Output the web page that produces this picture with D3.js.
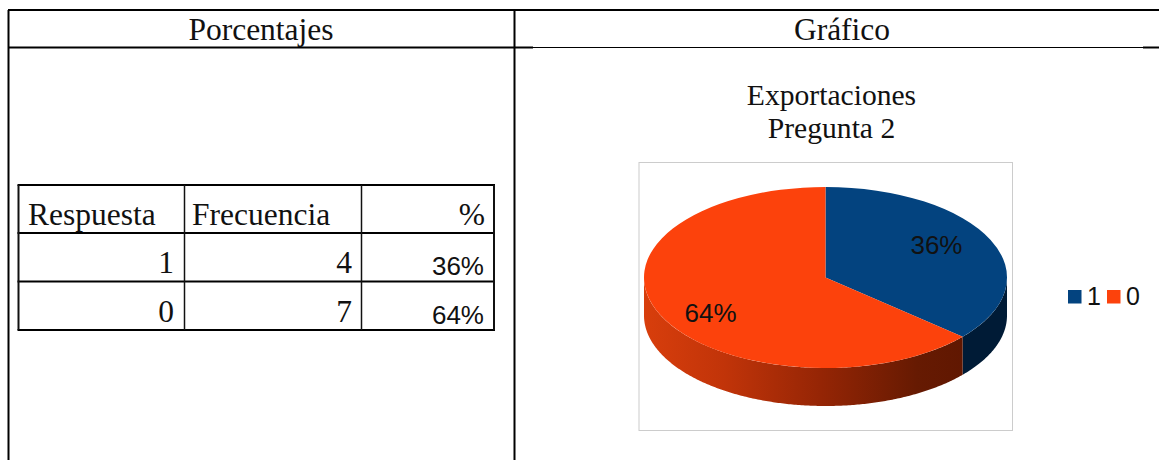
<!DOCTYPE html>
<html lang="es">
<head>
<meta charset="utf-8">
<title>Exportaciones Pregunta 2</title>
<script src="https://cdn.jsdelivr.net/npm/d3@7"></script>
<style>
  html, body { margin: 0; padding: 0; background: #fff; }
  svg { display: block; }
  .serif { font-family: "Liberation Serif", serif; fill: #111; }
  .sans { font-family: "Liberation Sans", sans-serif; fill: #111; }
</style>
</head>
<body>
<svg id="page" width="1159" height="460"></svg>
<script>
// Survey answers
const answers = ["1", "0"];
const frequencies = [4, 7];
const tableHeaders = ["Respuesta", "Frecuencia", "%"];
const sectionTitles = ["Porcentajes", "Gráfico"];
const chartTitle = ["Exportaciones", "Pregunta 2"];

const topColors = ["#03437f", "#fc420c"];
const wallColors = ["#001b36", "url(#wallShade)"];

const svg = d3.select("#page");
const total = d3.sum(frequencies);
const percent = d3.format(".0%");

function rule(x1, y1, x2, y2, width, color = "#000") {
  svg.append("line").attr("x1", x1).attr("y1", y1).attr("x2", x2).attr("y2", y2)
    .attr("stroke", color).attr("stroke-width", width);
}

// Outer layout table: a header row over two open-ended columns
rule(8, 10, 1159, 10, 2);
rule(8.5, 10, 8.5, 460, 2);
rule(514.5, 10, 514.5, 460, 2);
rule(8, 47.5, 533, 47.5, 2);
rule(533, 47.5, 1143, 47.5, 1);
rule(1143, 47.5, 1159, 47.5, 2);

svg.selectAll("text.section").data(sectionTitles).join("text")
  .attr("class", "section serif")
  .attr("x", (d, i) => [261, 842][i]).attr("y", 40)
  .attr("text-anchor", "middle").attr("font-size", 31.5).text(d => d);

// Frequency table
const colEdges = [18.5, 184.5, 361.5, 494];
const rowEdges = [185, 233, 281.5, 330];
rowEdges.forEach(y => rule(17.5, y, 495, y, 2));
colEdges.forEach((x, i) => rule(x, 185, x, 330, i === 0 || i === 3 ? 2 : 1.5, "#111"));

svg.append("g").selectAll("text").data(tableHeaders).join("text")
  .attr("class", "serif").attr("font-size", 31.5).attr("y", 225)
  .attr("x", (d, i) => [28, 192, 485][i])
  .attr("text-anchor", (d, i) => i === 2 ? "end" : "start")
  .text(d => d);

answers.forEach((answer, i) => {
  const y = rowEdges[i + 2] - 8.5;
  svg.append("text").attr("class", "serif").attr("font-size", 31.5)
    .attr("x", 174).attr("y", y).attr("text-anchor", "end").text(answer);
  svg.append("text").attr("class", "serif").attr("font-size", 31.5)
    .attr("x", 352).attr("y", y).attr("text-anchor", "end").text(frequencies[i]);
  svg.append("text").attr("class", "sans").attr("font-size", 26)
    .attr("x", 484).attr("y", y + 2).attr("text-anchor", "end")
    .text(percent(frequencies[i] / total));
});

// Chart title
svg.selectAll("text.chart-title").data(chartTitle).join("text")
  .attr("class", "chart-title serif")
  .attr("x", 831.5).attr("y", (d, i) => 104.5 + i * 33.5)
  .attr("text-anchor", "middle").attr("font-size", 29.6).text(d => d);

// Plot frame
svg.append("rect").attr("x", 639).attr("y", 162.5).attr("width", 373.5).attr("height", 268)
  .attr("fill", "#fff").attr("stroke", "#ccc").attr("stroke-width", 1);

// Tilted pie with a front wall
const cx = 825.5, cy = 277.5, rx = 181.5, ry = 90.5, depth = 38;
const defs = svg.append("defs");
const shade = defs.append("linearGradient").attr("id", "wallShade")
  .attr("gradientUnits", "userSpaceOnUse")
  .attr("x1", cx - rx).attr("x2", cx + 140).attr("y1", 0).attr("y2", 0);
[[0, "#d83e0c"], [0.25, "#c13409"], [0.55, "#952505"], [0.85, "#661a02"], [1, "#601701"]]
  .forEach(([o, c]) => shade.append("stop").attr("offset", o).attr("stop-color", c));

const arcs = d3.pie().sort(null).value(d => d)(frequencies);
const pieGroup = svg.append("g");

// Only the part of each slice facing the viewer shows a wall
const wall = d3.area()
  .x(a => cx + rx * Math.sin(a))
  .y0(a => cy - ry * Math.cos(a))
  .y1(a => cy - ry * Math.cos(a) + depth);

arcs.forEach((slice, i) => {
  const from = Math.max(slice.startAngle, Math.PI / 2);
  const to = Math.min(slice.endAngle, Math.PI * 1.5);
  if (to <= from) return;
  const steps = d3.range(from, to, 0.01).concat([to]);
  pieGroup.append("path").attr("d", wall(steps)).attr("fill", wallColors[i]);
});

const arcPath = d3.arc().innerRadius(0).outerRadius(rx);
pieGroup.append("g")
  .attr("transform", `translate(${cx},${cy}) scale(1,${ry / rx})`)
  .selectAll("path").data(arcs).join("path")
  .attr("d", arcPath).attr("fill", (d, i) => topColors[i]);

// Percentage labels placed inside the slices
const labelArc = d3.arc().innerRadius(122).outerRadius(122);
const labelNudge = [[0, -7], [-4, 10]];
svg.append("g").selectAll("text").data(arcs).join("text")
  .attr("class", "sans").attr("font-size", 26).attr("text-anchor", "middle")
  .attr("x", (d, i) => cx + labelArc.centroid(d)[0] + labelNudge[i][0])
  .attr("y", (d, i) => cy + labelArc.centroid(d)[1] * ry / rx + labelNudge[i][1])
  .attr("dy", "0.35em")
  .text(d => percent(d.value / total));

// Legend
const legendX = d3.scalePoint().domain(answers).range([1068, 1107]);
const legend = svg.append("g").selectAll("g").data(answers).join("g")
  .attr("transform", d => `translate(${legendX(d)},290)`);
legend.append("rect").attr("width", 13.5).attr("height", 13.5)
  .attr("fill", (d, i) => topColors[i]);
legend.append("text").attr("class", "sans").attr("font-size", 25)
  .attr("x", 19).attr("y", 15).text(d => d);
</script>
</body>
</html>
